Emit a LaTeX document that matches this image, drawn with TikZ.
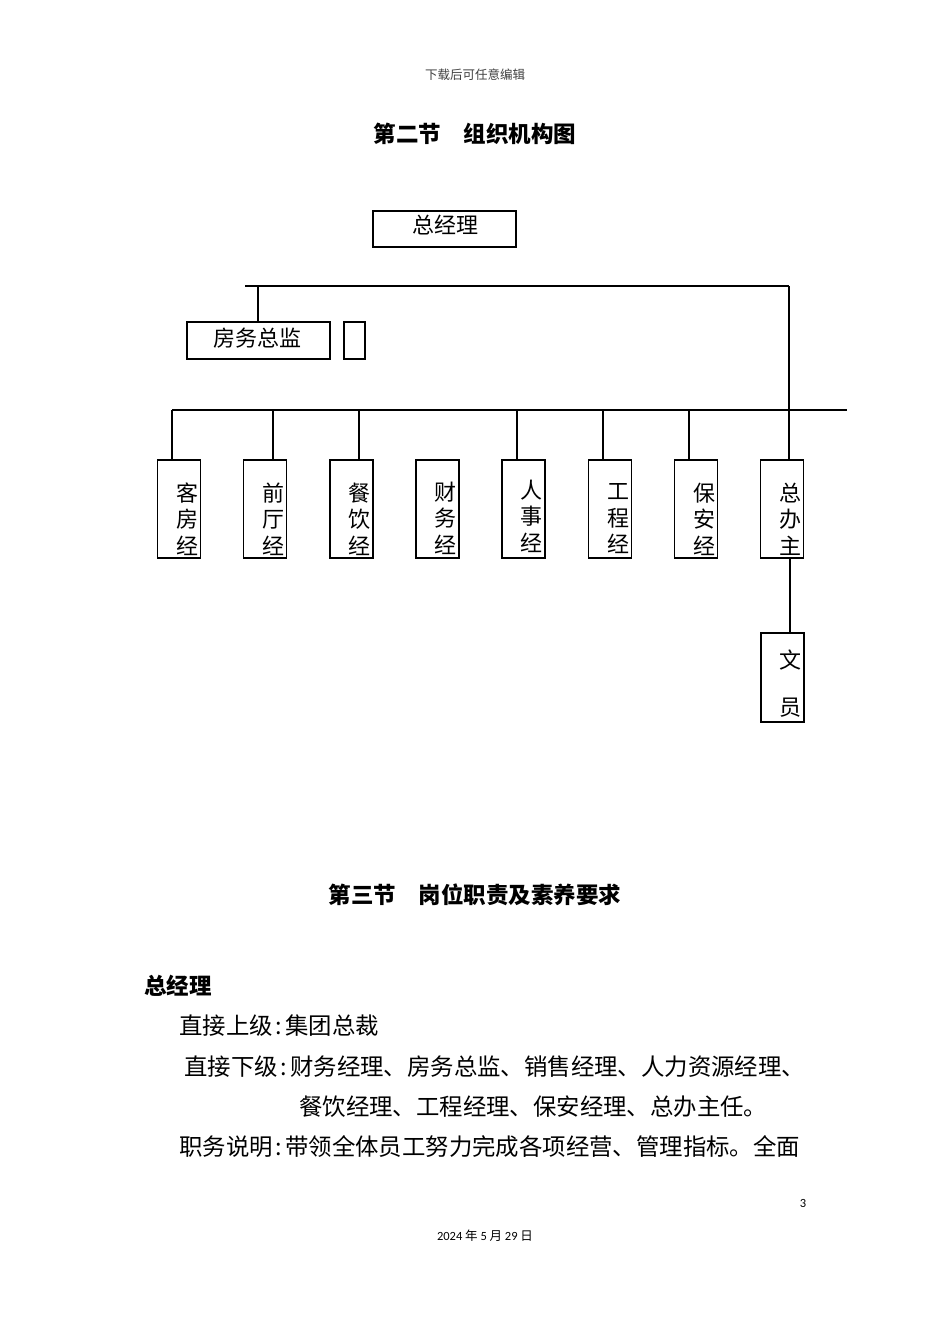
\documentclass[tikz,border=0pt]{standalone}
\usepackage{fontspec}
\newfontfamily\cjk{Noto Sans CJK SC}
\newfontfamily\numf{Carlito}
\newcommand{\colsep}{\hspace{3pt}:\hspace{3pt}}
\begin{document}
\begin{tikzpicture}[x=1pt,y=-1pt,
  conn/.style={line width=1.2pt},
  hbox/.style={draw,line width=1.2pt,inner sep=0pt},
  vbox/.style={draw,line width=1.2pt,inner sep=0pt,minimum width=43pt,minimum height=98pt},
  vtext/.style={inner sep=0pt,align=center,font=\cjk\fontsize{22pt}{26.5pt}\selectfont},
  btext/.style={inner sep=0pt,font=\cjk\fontsize{22pt}{26pt}\selectfont},
  ttl/.style={inner sep=0pt,font=\cjk\bfseries\fontsize{22.5pt}{26pt}\selectfont},
  body/.style={inner sep=0pt,anchor=west,font=\cjk\fontsize{23.4pt}{26pt}\selectfont},
  small/.style={inner sep=0pt,font=\fontsize{12.5pt}{14pt}\selectfont}]
\useasboundingbox[fill=white] (0,0) rectangle (950,1344);
% header
\node[small,text=black!75] (hdr) at (475,75) {\cjk 下载后可任意编辑};
\node[ttl] (t1) at (475,134) {第二节\hspace{1em}组织机构图};
% top boxes
\node[hbox,minimum width=143pt,minimum height=36pt] (gm) at (444.5,229) {};
\node[btext] (gmt) at (445,225) {总经理};
\node[hbox,minimum width=143pt,minimum height=37pt] (fw) at (258.5,340.5) {};
\node[btext] (fwt) at (257,338) {房务总监};
\node[hbox,minimum width=21pt,minimum height=37pt] (sm) at (354.5,340.5) {};
% bus lines
\coordinate (b1l) at (245,286);
\coordinate (b1r) at (789,286);
\coordinate (b2l) at (172,410);
\coordinate (b2r) at (847,410);
\draw[conn] (b1l) -- (b1r);
\draw[conn] (b2l) -- (b2r);
\draw[conn] (258,286) -- (fw.north -| 258,0);
% row boxes
\foreach \nm/\cx/\txt/\ty in {k/179/{客\\房\\经}/519, q/265/{前\\厅\\经}/519, c/351.5/{餐\\饮\\经}/519, f/437.5/{财\\务\\经}/518, r/523.5/{人\\事\\经}/516, g/610/{工\\程\\经}/519, p/696/{保\\安\\经}/519, z/782/{总\\办\\主}/519}{
  \node[vbox] (\nm) at (\cx,509) {};
  \node[vtext] (\nm t) at (\cx+8,\ty) {\txt};
}
\foreach \nm/\lx in {k/172,q/273,c/359,r/517,g/603,p/689}{
  \draw[conn] (\lx,410) -- (\nm.north -| \lx,0);
}
\draw[conn] (b1r) -- (z.north -| b1r);
% clerk
\node[hbox,minimum width=43pt,minimum height=89pt] (wy) at (782.5,677.5) {};
\node[btext] (wyt1) at (790,660) {文};
\node[btext] (wyt2) at (790,708) {员};
\draw[conn] (z.south -| 790,0) -- (wy.north -| 790,0);
% section 3
\node[ttl] (t2) at (475,895) {第三节\hspace{1em}岗位职责及素养要求};
\node[ttl,anchor=west] (gm2) at (144,986) {总经理};
\node[body] (l1) at (179,1026) {直接上级\colsep 集团总裁};
\node[body] (l2) at (184,1067) {直接下级\colsep 财务经理、房务总监、销售经理、人力资源经理、};
\node[body] (l3) at (299,1107) {餐饮经理、工程经理、保安经理、总办主任。};
\node[body] (l4) at (179,1147) {职务说明\colsep 带领全体员工努力完成各项经营、管理指标。全面};
% footer
\node[small] (pg) at (803,1203) {\numf 3};
\node[small] (dt) at (485,1236) {\numf 2024 \cjk 年 \numf 5 \cjk 月 \numf 29 \cjk 日};
\end{tikzpicture}
\end{document}
